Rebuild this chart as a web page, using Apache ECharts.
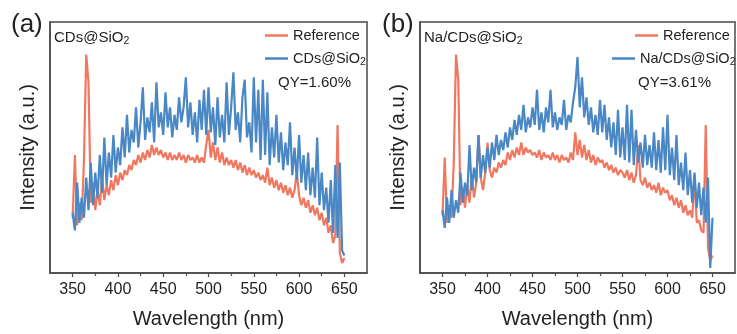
<!DOCTYPE html>
<html><head><meta charset="utf-8">
<script src="https://cdn.jsdelivr.net/npm/echarts@6/dist/echarts.min.js"></script>
<style>html,body{margin:0;padding:0;background:#fff}#c{width:737px;height:334px}</style>
</head><body><div id="c"></div>
<script>
const wavelength = [
350,352.5,355,357.5,360,362.5,365,367.5,370,372.5,
375,377.5,380,382.5,385,387.5,390,392.5,395,397.5,
400,402.5,405,407.5,410,412.5,415,417.5,420,422.5,
425,427.5,430,432.5,435,437.5,440,442.5,445,447.5,
450,452.5,455,457.5,460,462.5,465,467.5,470,472.5,
475,477.5,480,482.5,485,487.5,490,492.5,495,497.5,
500,502.5,505,507.5,510,512.5,515,517.5,520,522.5,
525,527.5,530,532.5,535,537.5,540,542.5,545,547.5,
550,552.5,555,557.5,560,562.5,565,567.5,570,572.5,
575,577.5,580,582.5,585,587.5,590,592.5,595,597.5,
600,602.5,605,607.5,610,612.5,615,617.5,620,622.5,
625,627.5,630,632.5,635,637.5,640,642.5,645,647.5,
650];
const refA = [
22,47,19,28,21,45,87,76,28,36,
25,33,27,38,29,35,31,37,33,39,
35,40,37,41,39,43,41,45,43,47,
44,48,45,49,46,51,47,50,47,49,
46,48,45,48,45,47,45,48,45,47,
44,47,45,46,44,47,44,46,44,51,
57,46,52,45,50,44,48,43,46,43,
45,42,45,41,44,40,43,39,42,39,
41,38,40,37,39,36,42,35,38,34,
37,33,36,32,35,31,34,30,33,40,
31,27,30,26,29,24,27,23,26,21,
24,19,22,16,19,12,15,59,8,4,
6];
const cdsA = [
24,17,36,20,30,22,38,25,44,27,
40,30,47,32,54,35,48,38,55,40,
50,43,58,46,63,48,57,52,66,50,
60,74,53,62,56,68,52,76,58,64,
55,72,58,66,54,63,57,70,60,66,
78,58,68,55,64,52,69,57,73,55,
74,56,66,51,70,54,63,52,76,55,
66,80,57,64,52,70,77,54,60,48,
78,52,73,45,77,47,72,43,58,46,
63,44,56,41,52,43,60,39,50,37,
55,36,47,33,48,31,42,30,54,27,
40,25,34,20,37,16,43,14,44,9,
7];
const refB = [
23,46,20,27,22,44,87,77,27,34,
26,35,28,39,30,36,55,38,33,40,
52,41,38,42,40,44,42,45,43,48,
45,49,46,50,47,52,47,50,48,49,
47,48,46,49,45,48,46,47,45,48,
45,47,44,47,45,46,44,48,45,56,
47,53,46,51,45,49,44,47,43,46,
44,45,42,44,41,43,40,42,39,41,
40,38,41,37,40,36,39,51,37,35,
38,34,36,33,35,32,36,31,34,32,
33,29,31,27,30,26,29,24,27,23,
25,22,39,20,21,17,16,59,10,5,
7];
const naB = [
25,18,30,20,33,22,29,24,40,28,
36,31,51,33,42,36,55,38,47,40,
50,42,52,45,55,47,53,49,56,50,
58,53,61,55,63,57,67,56,62,58,
66,59,73,57,64,56,66,60,73,58,
64,57,62,59,69,57,63,60,68,74,
86,66,78,62,70,59,66,56,63,55,
69,56,67,53,62,50,60,47,65,46,
58,45,67,44,65,43,57,44,52,42,
55,43,51,42,56,41,53,40,58,41,
63,39,50,37,55,35,44,33,48,31,
41,28,40,26,36,23,34,20,38,2,
22];
const xTicks = [350,400,450,500,550,600,650];
const xMinorTicks = [375,425,475,525,575,625];

const FONT = 'Liberation Sans, Arial, sans-serif';
const AX = '#4a4a4a';
const ORANGE = '#F07860';
const BLUE = '#4A87C5';
const chart = echarts.init(document.getElementById('c'), null, {renderer:'canvas'});

function pairs(ys){ return wavelength.map((w,i)=>[w, ys[i]]); }
const subRich = {s:{fontSize:10.5, fontFamily:FONT, color:'#222', padding:[7,0,0,0]}};

function mainX(g){
  return {type:'value', gridIndex:g, min:325, max:675,
    axisLine:{show:true, lineStyle:{color:AX, width:1.5}},
    axisTick:{show:true, inside:false, length:4, customValues:xTicks, lineStyle:{color:AX, width:1.2}},
    axisLabel:{customValues:xTicks, fontSize:16, color:'#222', margin:9, fontFamily:FONT},
    splitLine:{show:false},
    name:'Wavelength (nm)', nameLocation:'middle', nameGap:36,
    nameTextStyle:{fontSize:20, color:'#222', fontFamily:FONT}};
}
function minorX(g){
  return {type:'value', gridIndex:g, min:325, max:675, position:'bottom',
    axisLine:{show:false},
    axisTick:{show:true, inside:false, length:3, customValues:xMinorTicks, lineStyle:{color:AX, width:1.2}},
    axisLabel:{show:false}, splitLine:{show:false}};
}
function mainY(g){
  return {type:'value', gridIndex:g, min:0, max:100,
    axisLine:{show:true, lineStyle:{color:AX, width:1.5}},
    axisTick:{show:false}, axisLabel:{show:false}, splitLine:{show:false},
    name:'Intensity (a.u.)', nameLocation:'middle', nameGap:12,
    nameTextStyle:{fontSize:20, color:'#222', fontFamily:FONT}};
}
function line(name, ys, xi, yi, color, z){
  return {type:'line', name:name, data:pairs(ys), xAxisIndex:xi, yAxisIndex:yi,
    showSymbol:false, symbol:'none', z:z, lineStyle:{color:color, width:2.2}, itemStyle:{color:color}};
}
function leg(name, left, top){
  return {data:[name], left:left, top:top, orient:'horizontal', icon:'rect', itemWidth:23, itemHeight:2.5,
    itemGap:0, padding:0, selectedMode:false,
    formatter: n => n.replace('SiO2','SiO{s|2}'),
    textStyle:{fontSize:14.5, color:'#222', fontFamily:FONT, rich:subRich}};
}
function txt(t, left, top, size){
  return {text:t, left:left, top:top, padding:0,
    textStyle:{fontSize:size, fontWeight:'normal', color:'#222', fontFamily:FONT, rich:subRich}};
}

chart.setOption({
  animation:false,
  backgroundColor:'#fff',
  grid:[
    {left:50, top:22, width:317, height:254, show:true, borderColor:AX, borderWidth:1.5},
    {left:420, top:22, width:315, height:254, show:true, borderColor:AX, borderWidth:1.5}
  ],
  xAxis:[mainX(0), minorX(0), mainX(1), minorX(1)],
  yAxis:[mainY(0), mainY(1)],
  title:[
    txt('(a)', 11, 12, 26),
    txt('(b)', 382, 12, 26),
    txt('CDs@SiO{s|2}', 54, 29, 15),
    txt('Na/CDs@SiO{s|2}', 424, 29, 15),
    txt('QY=1.60%', 278, 75, 15),
    txt('QY=3.61%', 638, 75, 15)
  ],
  legend:[
    leg('Reference', 265, 28),
    leg('CDs@SiO2', 265, 51),
    leg('Reference', 635, 28),
    leg('Na/CDs@SiO2', 612, 51)
  ],
  series:[
    line('Reference', refA, 0, 0, ORANGE, 2),
    line('CDs@SiO2', cdsA, 0, 0, BLUE, 3),
    line('Reference', refB, 2, 1, ORANGE, 2),
    line('Na/CDs@SiO2', naB, 2, 1, BLUE, 3)
  ]
});
</script>
</body></html>
